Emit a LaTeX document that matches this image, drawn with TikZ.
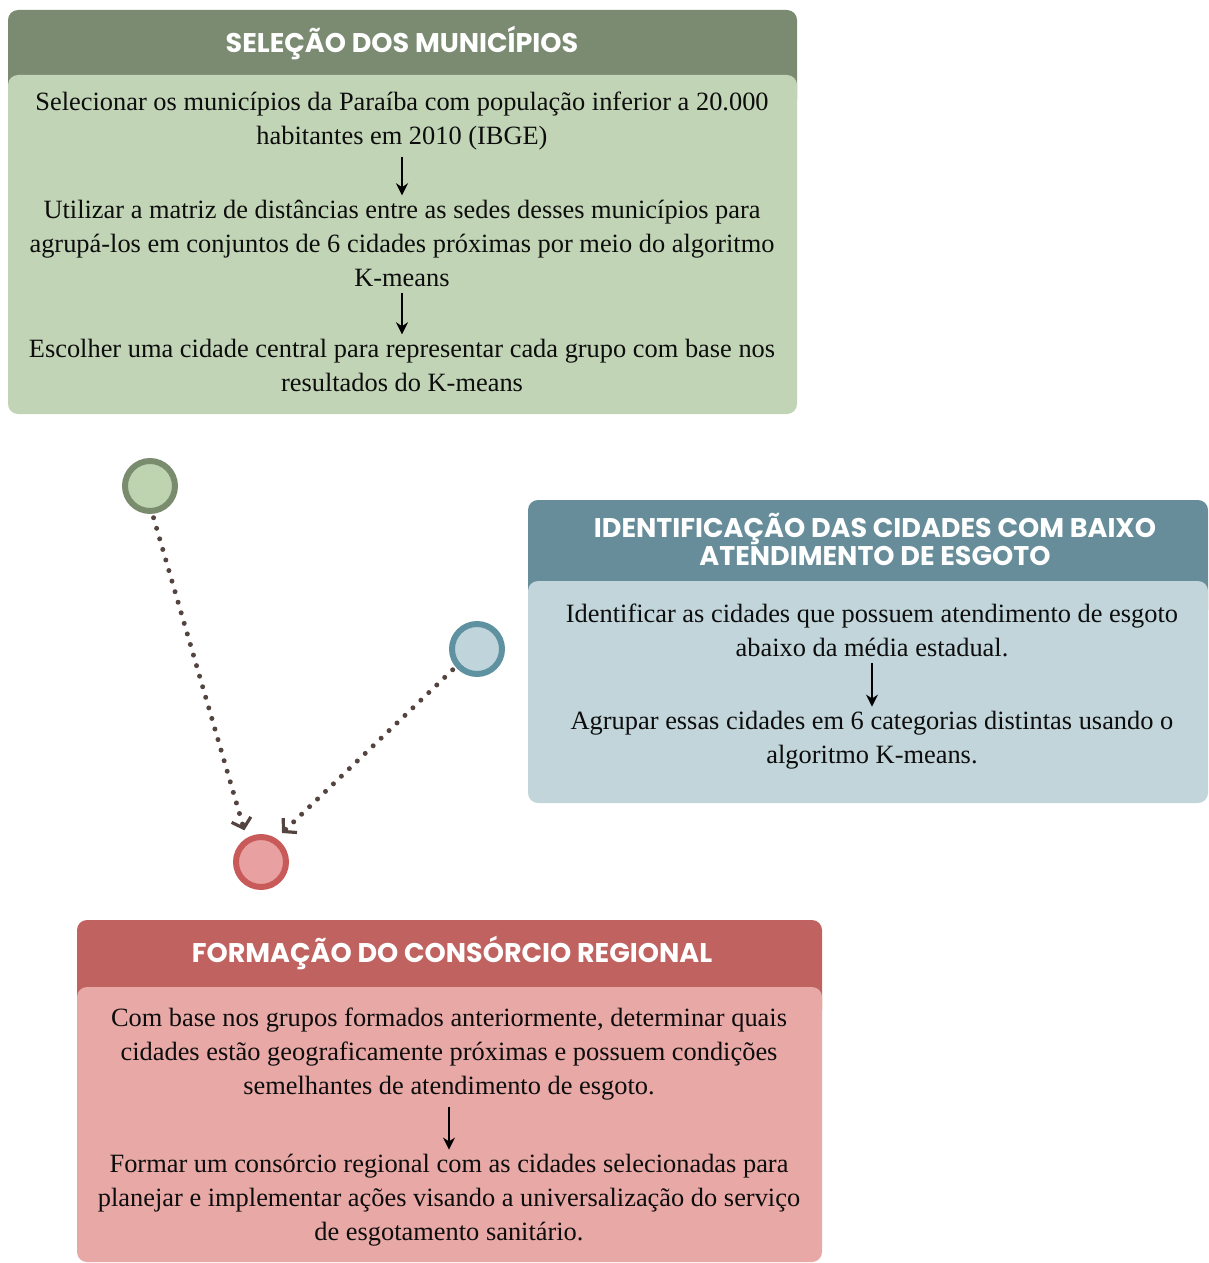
\documentclass[tikz,border=0pt]{standalone}
\usepackage{fontspec}
\setmainfont{Liberation Serif}
\newfontfamily\headfont{Poppins}
\usetikzlibrary{arrows.meta}
\definecolor{greenhead}{HTML}{7B8B72}
\definecolor{greenbody}{HTML}{C2D4B6}
\definecolor{bluehead}{HTML}{668D99}
\definecolor{bluebody}{HTML}{C1D5DA}
\definecolor{redhead}{HTML}{BF6260}
\definecolor{redbody}{HTML}{E8A8A6}
\definecolor{greenring}{HTML}{7A8C6E}
\definecolor{bluering}{HTML}{5F92A0}
\definecolor{redring}{HTML}{C85A5A}
\definecolor{greendot}{HTML}{BED4B0}
\definecolor{bluedot}{HTML}{BFD4DB}
\definecolor{reddot}{HTML}{E8A0A0}
\definecolor{linkcol}{HTML}{54443F}
\def\crad{5pt}

\begin{document}
\begin{tikzpicture}[x=0.5pt,y=-0.5pt,
    title/.style={text=white,align=center,inner sep=0pt,font=\headfont\bfseries\fontsize{13.5}{14}\selectfont},
    body/.style={text=black!95,align=center,inner sep=1pt,font=\fontsize{13.2}{17}\selectfont},
    flow/.style={line width=1.1pt,-{Stealth[length=6pt,width=6pt]},shorten <=2pt,shorten >=1pt},
    ring/.style 2 args={circle,minimum size=25pt,inner sep=0pt,line width=3pt,draw=#1,fill=#2},
    thread/.style={draw=linkcol,line width=2.5pt,line cap=round,dash pattern=on 0pt off 5.5pt,
      -{Straight Barb[length=4.5pt,width=10pt,line width=1.6pt]}}
  ]
  \useasboundingbox (0,0) rectangle (1209,1263);

  % selecao
  \fill[greenhead,rounded corners=\crad] (8,10) rectangle (797,110);
  \fill[greenbody,rounded corners=\crad] (8,75) rectangle (797,414);
  \node[title] (t1) at (402,43) {SELEÇÃO DOS MUNICÍPIOS};
  \node[body] (s1a) at (402,121) {Selecionar os municípios da Paraíba com população inferior a 20.000\\habitantes em 2010 (IBGE)};
  \node[body] (s1b) at (402,243) {Utilizar a matriz de distâncias entre as sedes desses municípios para\\agrupá-los em conjuntos de 6 cidades próximas por meio do algoritmo\\K-means};
  \node[body] (s1c) at (402,365) {Escolher uma cidade central para representar cada grupo com base nos\\resultados do K-means};
  \draw[flow] (s1a.south) -- (s1b.north);
  \draw[flow] (s1b.south) -- (s1c.north);

  % identificacao
  \fill[bluehead,rounded corners=\crad] (528,500) rectangle (1208,620);
  \fill[bluebody,rounded corners=\crad] (528,581) rectangle (1208,803);
  \node[title] (t2) at (875,539) {IDENTIFICAÇÃO DAS CIDADES COM BAIXO\\ATENDIMENTO DE ESGOTO};
  \node[body] (s2a) at (872,630) {Identificar as cidades que possuem atendimento de esgoto\\abaixo da média estadual.};
  \node[body] (s2b) at (872,740) {Agrupar essas cidades em 6 categorias distintas usando o\\algoritmo K-means.};
  \draw[flow] (s2a.south) -- (s2b.north);

  % formacao
  \fill[redhead,rounded corners=\crad] (77,920) rectangle (822,1020);
  \fill[redbody,rounded corners=\crad] (77,987) rectangle (822,1262);
  \node[title] (t3) at (452,953) {FORMAÇÃO DO CONSÓRCIO REGIONAL};
  \node[body] (s3a) at (449,1054) {Com base nos grupos formados anteriormente, determinar quais\\cidades estão geograficamente próximas e possuem condições\\semelhantes de atendimento de esgoto.};
  \node[body] (s3b) at (449,1200) {Formar um consórcio regional com as cidades selecionadas para\\planejar e implementar ações visando a universalização do serviço\\de esgotamento sanitário.};
  \draw[flow] (s3a.south) -- (s3b.north);

  % circulos
  \node[ring={greenring}{greendot}] (c1) at (150,486) {};
  \node[ring={bluering}{bluedot}] (c2) at (477,649) {};
  \node[ring={redring}{reddot}] (c3) at (261,862) {};
  \draw[thread,shorten <=2pt,shorten >=4pt] (c1.275) -- (c3.121);
  \draw[thread,shorten <=2pt,shorten >=4pt] (c2.220) -- (c3.57);
\end{tikzpicture}
\end{document}
